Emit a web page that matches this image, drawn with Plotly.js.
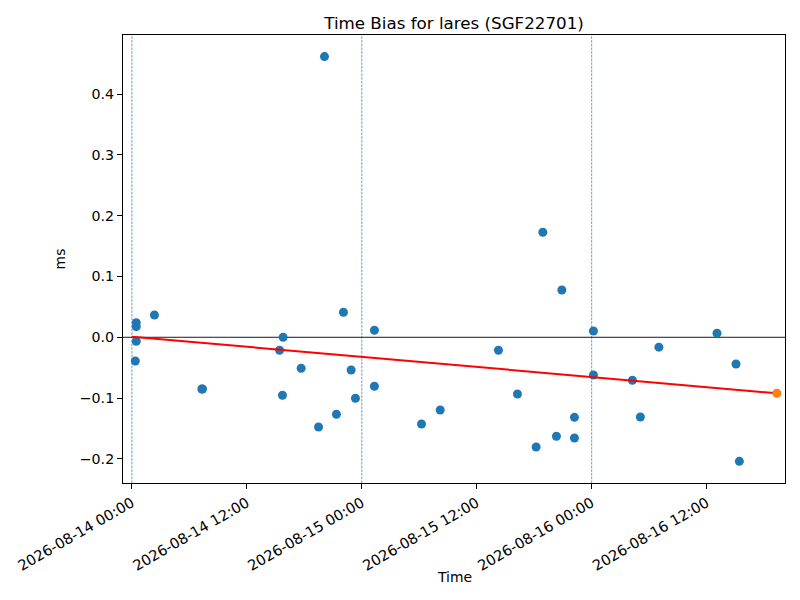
<!DOCTYPE html>
<html>
<head>
<meta charset="utf-8">
<script src="https://cdn.plot.ly/plotly-3.0.1.min.js"></script>
<style>html,body{margin:0;padding:0;background:#fff;}#chart{width:800px;height:600px;}</style>
</head>
<body>
<div id="chart"></div>
<script>
// Observed time bias samples
const obsTimes = [
  "2026-08-14 00:27","2026-08-14 00:27","2026-08-14 00:27","2026-08-14 00:21",
  "2026-08-14 02:21","2026-08-14 07:18","2026-08-14 07:22",
  "2026-08-14 15:25","2026-08-14 15:47","2026-08-14 15:43","2026-08-14 17:40",
  "2026-08-14 19:29","2026-08-14 20:06","2026-08-14 21:21","2026-08-14 22:05",
  "2026-08-14 22:53","2026-08-14 23:20","2026-08-15 01:19","2026-08-15 01:19",
  "2026-08-15 06:14","2026-08-15 08:11","2026-08-15 14:16","2026-08-15 16:15",
  "2026-08-15 18:12","2026-08-15 18:54","2026-08-15 20:19","2026-08-15 20:53",
  "2026-08-15 22:12","2026-08-15 22:12","2026-08-16 00:11","2026-08-16 00:11",
  "2026-08-16 04:15","2026-08-16 05:05","2026-08-16 07:01","2026-08-16 13:05",
  "2026-08-16 15:04","2026-08-16 15:25"
];
const obsBias = [
  0.024, 0.0174, -0.0066, -0.039,
  0.0367, -0.085, -0.085,
  -0.0214, 0.000, -0.0954, -0.051,
  -0.1475, 0.4615, -0.1266, 0.0411,
  -0.0538, -0.1003, 0.0115, -0.0806,
  -0.1426, -0.1196, -0.0214, -0.0933,
  -0.1804, 0.1727, -0.1628, 0.0778,
  -0.1316, -0.1656, 0.0104, -0.062,
  -0.0707, -0.131, -0.0163, 0.0066,
  -0.0439, -0.204
];
// Linear fit line
const fitTimes = ["2026-08-14 00:00", "2026-08-16 19:20"];
const fitBias = [0.001, -0.0921];
// Predicted point
const predTimes = ["2026-08-16 19:20"];
const predBias = [-0.0921];
// Day boundaries
const dayLines = ["2026-08-14 00:00", "2026-08-15 00:00", "2026-08-16 00:00"];
// Axis settings
const xRange = ["2026-08-13 23:04", "2026-08-16 20:11"];
const yRange = [-0.2396, 0.497];
const yTicks = [-0.2, -0.1, 0.0, 0.1, 0.2, 0.3, 0.4];

const font = "DejaVu Sans, sans-serif";
const shapes = dayLines.map(d => ({
  type: "line", xref: "x", yref: "paper", x0: d, x1: d, y0: 0, y1: 1,
  line: {color: "#1f77b4", width: 0.7, dash: "2.6px,1.1px"}, layer: "below"
}));
shapes.push({type: "line", xref: "paper", yref: "y", x0: 0, x1: 1, y0: 0, y1: 0,
  line: {color: "#000", width: 0.9}, layer: "below"});

const traces = [
  {x: obsTimes, y: obsBias, type: "scatter", mode: "markers",
   marker: {color: "#1f77b4", size: 9, line: {width: 0}}, hoverinfo: "x+y"},
  {x: fitTimes, y: fitBias, type: "scatter", mode: "lines",
   line: {color: "#ff0000", width: 2}},
  {x: predTimes, y: predBias, type: "scatter", mode: "markers",
   marker: {color: "#ff7f0e", size: 9, line: {width: 0}}}
];

const layout = {
  width: 800, height: 600,
  margin: {l: 123, r: 15, t: 35, b: 117},
  paper_bgcolor: "#fff", plot_bgcolor: "#fff",
  showlegend: false,
  font: {family: font, size: 13.9, color: "#000"},
  title: {text: "Time Bias for lares (SGF22701)", font: {family: font, size: 16.7, color: "#000"},
          x: 0.5, xref: "paper", y: 1, yref: "paper", yanchor: "bottom", pad: {b: 6}},
  xaxis: {
    type: "date", range: xRange, tick0: "2026-08-14 00:00", dtick: 43200000,
    tickformat: "%Y-%m-%d %H:%M", tickangle: -30,
    ticks: "outside", ticklen: 5, tickwidth: 1, tickcolor: "#000",
    showline: true, linecolor: "#000", linewidth: 1, mirror: true,
    showgrid: false, zeroline: false,
    tickfont: {family: font, size: 14.6, color: "#000"}
  },
  yaxis: {
    range: yRange, tickvals: yTicks, tickformat: ".1f",
    ticks: "outside", ticklen: 5, tickwidth: 1, tickcolor: "#000",
    showline: true, linecolor: "#000", linewidth: 1, mirror: true,
    showgrid: false, zeroline: false,
    tickfont: {family: font, size: 14.2, color: "#000"},
    title: {text: "ms", font: {family: font, size: 13.9, color: "#000"}, standoff: 10}
  },
  annotations: [{
    text: "Time", xref: "paper", yref: "paper", x: 0.5, y: -0.21,
    xanchor: "center", yanchor: "middle", showarrow: false,
    font: {family: font, size: 13.9, color: "#000"}
  }],
  shapes: shapes
};
Plotly.newPlot("chart", traces, layout, {displayModeBar: false, staticPlot: true});
</script>
</body>
</html>
